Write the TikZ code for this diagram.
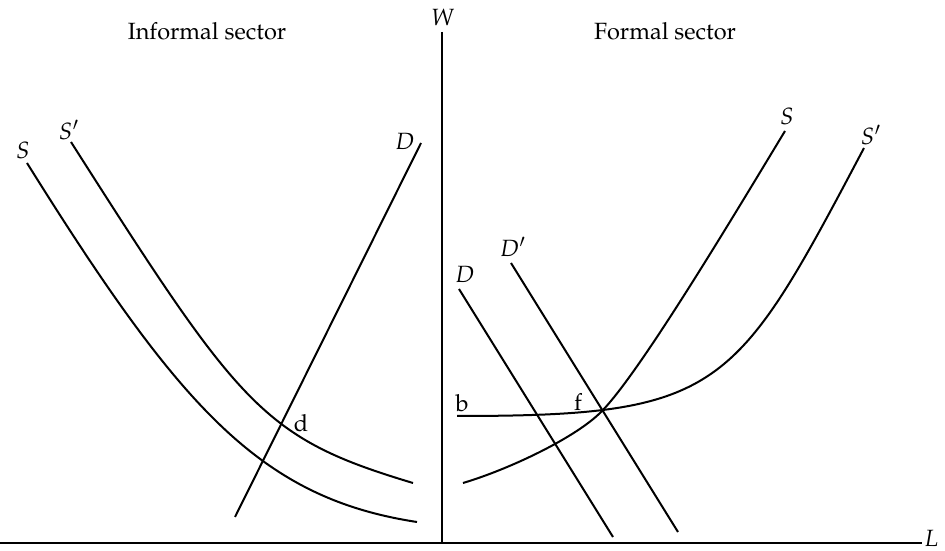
\documentclass[tikz,border=0pt]{standalone}
\usepackage[T1]{fontenc}
\usepackage{mathpazo}
\begin{document}
\begin{tikzpicture}[x=0.5bp,y=-0.5bp,
  curve/.style={line width=1bp},
  axis/.style={line width=0.65bp},
  lbl/.style={inner sep=0pt,font=\fontsize{11.8}{14}\selectfont}]
\useasboundingbox (0,0) rectangle (945,551);
% axes
\coordinate (ytop) at (442,32);
\coordinate (origin) at (442,543);
\coordinate (xleft) at (0,543);
\coordinate (xright) at (922,543);
\draw[axis] (ytop) -- (origin);
\draw[axis] (xleft) -- (xright);
\node[lbl] (W) at (443,17) {$W$};
\node[lbl,anchor=east] (L) at (939,538) {$L$};
\node[lbl] (inf) at (207,31) {Informal sector};
\node[lbl] (form) at (665,31) {Formal sector};
% informal sector
\coordinate (S1a) at (27,163);
\coordinate (S1b) at (417,522);
\draw[curve] (S1a) .. controls (180,408) and (260,498) .. (S1b);
\coordinate (S2a) at (71,142);
\coordinate (S2b) at (413,483);
\draw[curve] (S2a) .. controls (241,409) and (263,438) .. (S2b);
\coordinate (D1a) at (235,517);
\coordinate (D1b) at (421,143);
\draw[curve] (D1a) -- (D1b);
\node[lbl] (lS) at (23,150) {$S$};
\node[lbl] (lS2) at (69,130) {$S'$};
\node[lbl] (lD) at (405,141) {$D$};
\node[lbl] (ld) at (301,423) {d};
% formal sector
\coordinate (f) at (602,411);
\coordinate (ba) at (457,416);
\coordinate (bb) at (864,148);
\draw[curve] (ba) .. controls (722,416) and (735,392) .. (bb);
\coordinate (Sa) at (463,483);
\coordinate (Sb) at (785,131);
\draw[curve,line join=round] (Sa) .. controls (510,469) and (577,437) .. (f)
  .. controls (640,372) and (730,222) .. (Sb);
\coordinate (Da) at (459,289);
\coordinate (Db) at (613,537);
\draw[curve] (Da) -- (Db);
\coordinate (D2a) at (511,263);
\coordinate (D2b) at (678,532);
\draw[curve] (D2a) -- (D2b);
\node[lbl] (rD) at (465,274) {$D$};
\node[lbl] (rD2) at (513,247) {$D'$};
\node[lbl] (rS) at (787,116) {$S$};
\node[lbl] (rS2) at (871,135) {$S'$};
\node[lbl] (lb) at (462,403) {b};
\node[lbl] (lf) at (578,402) {f};
\end{tikzpicture}
\end{document}
